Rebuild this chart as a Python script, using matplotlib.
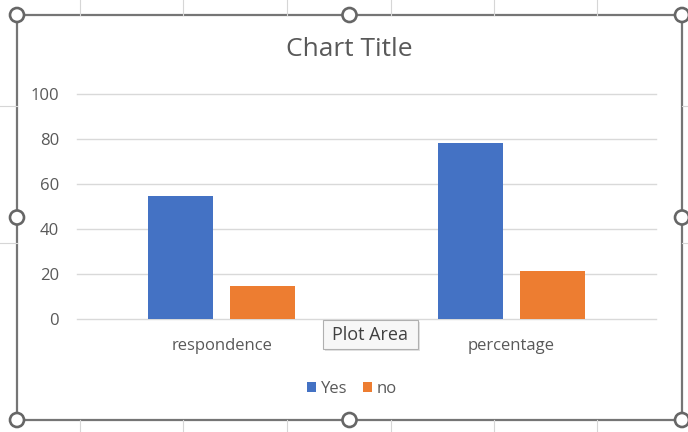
import matplotlib
matplotlib.use("Agg")
import matplotlib.pyplot as plt
from matplotlib.patches import Circle, FancyBboxPatch, Rectangle
import numpy as np

# ---- data ----
categories = ["respondence", "percentage"]
series_names = ["Yes", "no"]
yes_values = [55, 78.57]
no_values = [15, 21.43]
y_ticks = [0, 20, 40, 60, 80, 100]
chart_title = "Chart Title"

# ---- style ----
FONT = ["Open Sans", "DejaVu Sans"]
plt.rcParams["font.family"] = FONT
TEXT = "#595959"
BLUE = "#4472C4"
ORANGE = "#ED7D31"
GRID = "#d9d9d9"

W, H = 688, 432
fig = plt.figure(figsize=(W / 100, H / 100), dpi=100)
fig.patch.set_facecolor("white")

# ---- chart plot area ----
ax = fig.add_axes([77 / W, 112.7 / H, 579 / W, 225 / H])
x = np.arange(len(categories))
bar_w = 0.224
offset = 0.142
ax.bar(x - offset, yes_values, bar_w, color=BLUE, zorder=3, label=series_names[0])
ax.bar(x + offset, no_values, bar_w, color=ORANGE, zorder=3, label=series_names[1])
ax.set_xlim(-0.5, len(categories) - 0.5)
ax.set_ylim(0, 100)
ax.set_yticks(y_ticks)
ax.set_yticklabels([str(v) for v in y_ticks])
ax.set_xticks(x)
ax.set_xticklabels(categories)
ax.yaxis.grid(True, color=GRID, lw=1, zorder=0)
for gl in ax.get_ygridlines():
    gl.set_clip_on(False)
for s in ax.spines.values():
    s.set_visible(False)
ax.tick_params(axis="both", length=0, colors=TEXT, labelsize=12)
ax.tick_params(axis="y", pad=13)
ax.tick_params(axis="x", pad=13.5)
ax.set_facecolor("none")

# title
fig.text(349 / W, 1 - 50 / H, chart_title, ha="center", va="center",
         fontsize=19, color=TEXT)

# legend
leg = fig.legend(loc="center", bbox_to_anchor=(352 / W, 1 - 389 / H), ncol=2,
                 frameon=False, fontsize=12, handlelength=0.55, handleheight=0.55,
                 handletextpad=0.3, columnspacing=0.9, labelcolor=TEXT)

# ---- overlay in pixel units: sheet lines, selection frame, tooltip ----
ov = fig.add_axes([0, 0, 1, 1], zorder=10)
ov.set_xlim(0, W)
ov.set_ylim(H, 0)
ov.set_axis_off()

left, right, top, bottom = 17, 682, 15, 420
sheet_col = "#d6d6d6"
for cx in [80, 183, 287, 391, 494, 597]:
    ov.plot([cx, cx], [0, top], color=sheet_col, lw=0.8)
    ov.plot([cx, cx], [bottom, H], color=sheet_col, lw=0.8)
for cy in [106, 243]:
    ov.plot([0, left], [cy, cy], color=sheet_col, lw=0.8)
    ov.plot([right, W], [cy, cy], color=sheet_col, lw=0.8)

ov.add_patch(Rectangle((left, top), right - left, bottom - top, fill=False,
                       edgecolor="#757575", lw=1.6))
midx = (left + right) / 2
midy = (top + bottom) / 2
for hx, hy in [(left, top), (midx, top), (right, top),
               (left, midy), (right, midy),
               (left, bottom), (midx, bottom), (right, bottom)]:
    ov.add_patch(Circle((hx, hy), 7, facecolor="white", edgecolor="#666666", lw=1.9))

# tooltip
ov.add_patch(FancyBboxPatch((325, 322), 95, 29, boxstyle="square,pad=0",
                            facecolor="#cfcfcf", edgecolor="none", alpha=0.6))
ov.add_patch(FancyBboxPatch((323, 320), 95, 29, boxstyle="square,pad=0",
                            facecolor="#f7f7f7", edgecolor="#b0b0b0", lw=0.8))
ov.text(370.5, 334.5, "Plot Area", ha="center", va="center", fontsize=13, color="#404040")

fig.savefig("out.png", dpi=100)
